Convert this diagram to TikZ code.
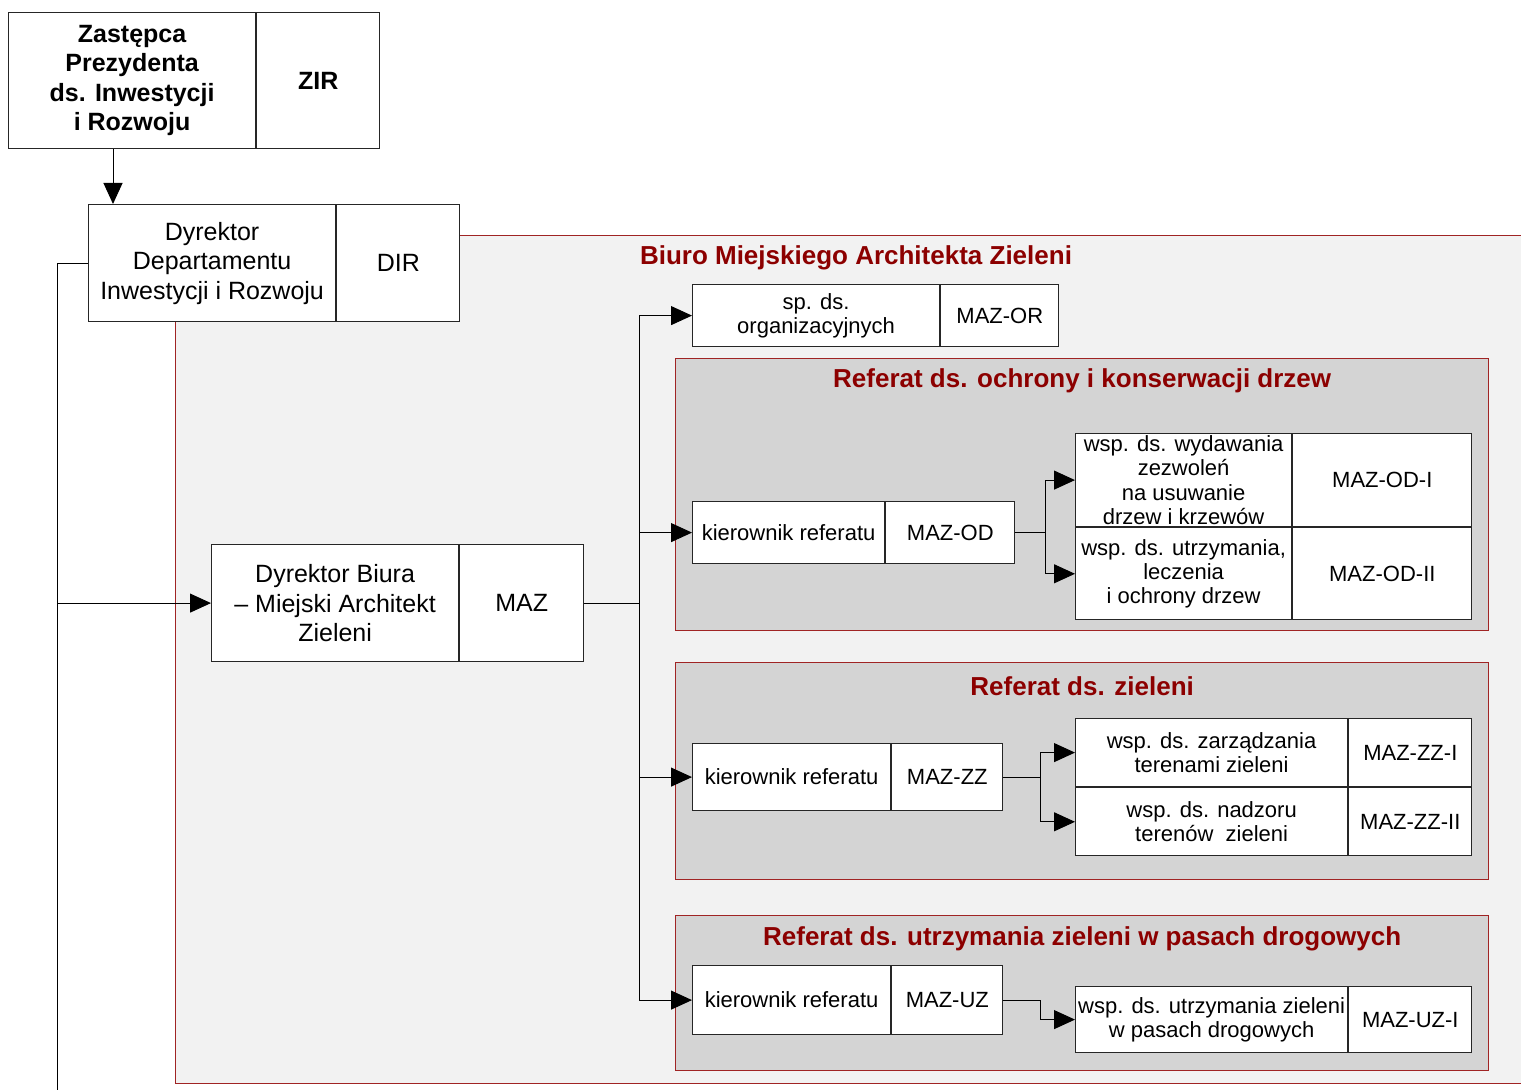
\documentclass[tikz,border=0pt]{standalone}
\usepackage{fontspec}
\setmainfont{Liberation Sans}
\usetikzlibrary{positioning,arrows.meta,calc}
\definecolor{ramka}{RGB}{160,36,36}
\definecolor{tytul}{RGB}{140,0,0}
\definecolor{tlo}{RGB}{242,242,242}
\definecolor{refgray}{RGB}{212,212,212}

\begin{document}
\begin{tikzpicture}[x=0.5pt,y=-0.5pt,
    unitbox/.style={rectangle,draw=black!85,line width=0.6pt,fill=white,anchor=north west,
		align=center,inner sep=1pt,font=\fontsize{12.5}{14.75}\selectfont},
    codebox/.style={unitbox},
    smalltext/.style={font=\fontsize{11}{12.2}\selectfont},
    boldtext/.style={font=\fontsize{12.5}{14.7}\selectfont\bfseries},
% Frame styles
    biuro/.style={rectangle,draw=ramka,line width=0.7pt,fill=tlo,anchor=north west},
    referat/.style={rectangle,draw=ramka,line width=0.7pt,fill=refgray,anchor=north west,
		minimum width=406.5pt},
    reftitle/.style={text=tytul,font=\fontsize{13}{15}\selectfont\bfseries},
    link/.style={line width=0.5pt,draw=black},
    arrow/.style={link,-{Triangle[length=10.5pt,width=9.5pt]}}
    ]
\clip (0,0) rectangle (1521,1090);

\node [biuro,minimum width=677.5pt,minimum height=424pt] (biuro) at (175,235) {};
\node [reftitle] (biurotitle) at (856,258) {Biuro Miejskiego Architekta Zieleni};

\node [referat,minimum height=136pt] (refod) at (675,358) {};
\node [reftitle] (odtitle) at ([yshift=-11.5pt]refod.north) {Referat ds. ochrony i konserwacji drzew};
\node [referat,minimum height=108.5pt] (refzz) at (675,662) {};
\node [reftitle] (zztitle) at ([yshift=-12pt]refzz.north) {Referat ds. zieleni};
\node [referat,minimum height=77.5pt] (refuz) at (675,915) {};
\node [reftitle] (uztitle) at ([yshift=-12pt]refuz.north) {Referat ds. utrzymania zieleni w pasach drogowych};

\node [unitbox,boldtext,minimum width=123.5pt,minimum height=68pt] (zir) at (8,12)
	{Zastępca\\Prezydenta\\ds. Inwestycji\\i Rozwoju};
\node [codebox,boldtext,minimum width=61.5pt,minimum height=68pt,right=0pt of zir] (zircode) {ZIR};

\node [unitbox,minimum width=123.5pt,minimum height=58.5pt] (dir) at (88,204)
	{Dyrektor\\Departamentu\\Inwestycji i Rozwoju};
\node [codebox,minimum width=61.5pt,minimum height=58.5pt,right=0pt of dir] (dircode) {DIR};

\node [unitbox,minimum width=123.5pt,minimum height=58.5pt] (maz) at (211,544)
	{Dyrektor Biura\\– Miejski Architekt\\Zieleni};
\node [codebox,minimum width=62pt,minimum height=58.5pt,right=0pt of maz] (mazcode) {MAZ};

\node [unitbox,smalltext,minimum width=123.5pt,minimum height=31pt] (mazor) at (692,284)
	{sp. ds.\\organizacyjnych};
\node [codebox,smalltext,minimum width=59pt,minimum height=31pt,right=0pt of mazor] (mazorcode) {MAZ-OR};

% Referat ds. ochrony
\node [unitbox,smalltext,minimum width=96pt,minimum height=31pt] (kod) at (692,501) {kierownik referatu};
\node [codebox,smalltext,minimum width=64.5pt,minimum height=31pt,right=0pt of kod] (kodcode) {MAZ-OD};
\node [unitbox,smalltext,inner sep=0pt,minimum width=108pt,minimum height=46.5pt] (odI) at (1075,433)
	{wsp. ds. wydawania\\zezwoleń\\na usuwanie\\drzew i krzewów};
\node [codebox,smalltext,minimum width=89.5pt,minimum height=46.5pt,right=0pt of odI] (odIcode) {MAZ-OD-I};
\node [unitbox,smalltext,minimum width=108pt,minimum height=46pt,below=0pt of odI] (odII)
	{wsp. ds. utrzymania,\\leczenia\\i ochrony drzew};
\node [codebox,smalltext,minimum width=89.5pt,minimum height=46pt,right=0pt of odII] (odIIcode) {MAZ-OD-II};

% Referat ds. zieleni
\node [unitbox,smalltext,minimum width=99pt,minimum height=33.5pt] (kzz) at (692,743) {kierownik referatu};
\node [codebox,smalltext,minimum width=55.5pt,minimum height=33.5pt,right=0pt of kzz] (kzzcode) {MAZ-ZZ};
\node [unitbox,smalltext,minimum width=136pt,minimum height=34pt] (zzI) at (1075,718)
	{wsp. ds. zarządzania\\terenami zieleni};
\node [codebox,smalltext,minimum width=61.5pt,minimum height=34pt,right=0pt of zzI] (zzIcode) {MAZ-ZZ-I};
\node [unitbox,smalltext,minimum width=136pt,minimum height=34pt,below=0pt of zzI] (zzII)
	{wsp. ds. nadzoru\\terenów\ \ zieleni};
\node [codebox,smalltext,minimum width=61.5pt,minimum height=34pt,right=0pt of zzII] (zzIIcode) {MAZ-ZZ-II};

% Referat ds. utrzymania
\node [unitbox,smalltext,minimum width=99pt,minimum height=34.5pt] (kuz) at (692,965) {kierownik referatu};
\node [codebox,smalltext,minimum width=55.5pt,minimum height=34.5pt,right=0pt of kuz] (kuzcode) {MAZ-UZ};
\node [unitbox,smalltext,minimum width=136pt,minimum height=33pt] (uzI) at (1075,986)
	{wsp. ds. utrzymania zieleni\\w pasach drogowych};
\node [codebox,smalltext,minimum width=61.5pt,minimum height=33pt,right=0pt of uzI] (uzIcode) {MAZ-UZ-I};

% Connectors
\coordinate (bottom) at (57,1090);
\coordinate (trunk) at ($(mazcode.east)+(27.5pt,0)$);
\draw [arrow] ([xshift=52.5pt]zir.south west) -- ([xshift=12.5pt]dir.north west);
\draw [link] (dir.west) -| (bottom);
\draw [arrow] (bottom |- maz.west) -- (maz.west);
\foreach \t in {mazor,kod,kzz,kuz}
	\draw [arrow] (mazcode.east) -- (trunk) |- (\t.west);
\foreach \t in {odI,odII}
	\draw [arrow] (kodcode.east) -- ++(15pt,0) |- (\t.west);
\foreach \t in {zzI,zzII}
	\draw [arrow] (kzzcode.east) -- ++(18.5pt,0) |- (\t.west);
\draw [arrow] (kuzcode.east) -- ++(18.5pt,0) |- (uzI.west);
\end{tikzpicture}
\end{document}
